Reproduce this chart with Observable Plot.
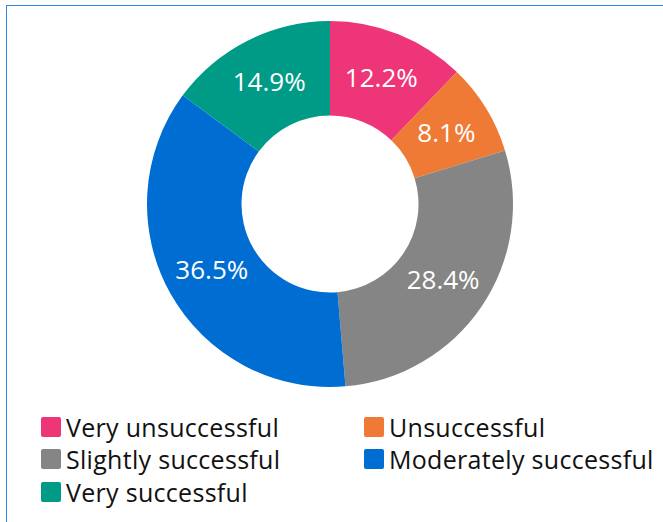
<!DOCTYPE html>
<html><head><meta charset="utf-8">
<script src="https://cdn.jsdelivr.net/npm/d3@7"></script>
<script src="https://cdn.jsdelivr.net/npm/@observablehq/plot@0.6"></script>
<style>
html,body{margin:0;padding:0;background:#fff;overflow:hidden;width:663px;height:522px;}
#frame{position:absolute;left:6px;top:5px;width:700px;height:560px;border:1.5px solid #2a86e2;box-sizing:border-box;}
#chart{position:absolute;left:0;top:0;}
#legend{position:absolute;left:41px;top:411px;font-family:"Open Sans",sans-serif;font-size:25px;letter-spacing:0.3px;color:#111;display:grid;grid-template-columns:323px auto;row-gap:1.5px;}
.item{display:flex;align-items:center;height:31px;white-space:nowrap;}
.sw{width:20px;height:20px;border-radius:2px;margin-right:5px;flex:none;}
</style></head>
<body>
<div id="frame"></div>
<div id="chart"></div>
<div id="legend"></div>
<script>
const categories = ["Very unsuccessful","Unsuccessful","Slightly successful","Moderately successful","Very successful"];
const values = [12.2, 8.1, 28.4, 36.5, 14.9];
const colors = ["#ee3577","#ee7a35","#858585","#006dd3","#009b87"];

const outerR = 183, innerR = 88.5, labelR = 136;
const pie = d3.pie().sort(null).value(d => d.value)(categories.map((c,i)=>({category:c,value:values[i]})));
const data = pie.map(p => {
  const mid = (p.startAngle + p.endAngle)/2;
  return {category:p.data.category, value:p.data.value, startAngle:p.startAngle, endAngle:p.endAngle,
    lx: labelR*Math.sin(mid), ly: labelR*Math.cos(mid)};
});

const colorScale = Plot.scale({color: {domain: categories, range: colors}});
const arc = d3.arc().innerRadius(innerR).outerRadius(outerR);
function donut(index, scales) {
  const g = d3.create("svg:g");
  const cx = scales.x(0), cy = scales.y(0);
  data.forEach(d => {
    g.append("path")
      .attr("d", arc({startAngle:d.startAngle,endAngle:d.endAngle}))
      .attr("transform", `translate(${cx},${cy})`)
      .attr("fill", colorScale.apply(d.category));
  });
  return g.node();
}

const plot = Plot.plot({
  width: 663, height: 400,
  margin: 0,
  x: {domain: [-330, 333], axis: null},
  y: {domain: [-196, 204], axis: null},
  style: {fontFamily: "'Open Sans', sans-serif", background: "transparent"},
  marks: [
    donut,
    Plot.text(data, {x: "lx", y: "ly", text: d => d.value.toFixed(1) + "%", fill: "white", fontSize: 26, fontFamily: "'Open Sans', sans-serif"})
  ]
});
document.getElementById("chart").appendChild(plot);

const legend = document.getElementById("legend");
categories.forEach((c,i) => {
  const it = document.createElement("div"); it.className = "item";
  const sw = document.createElement("span"); sw.className = "sw"; sw.style.background = colors[i];
  const t = document.createElement("span"); t.textContent = c;
  it.appendChild(sw); it.appendChild(t); legend.appendChild(it);
});
</script>
</body></html>
